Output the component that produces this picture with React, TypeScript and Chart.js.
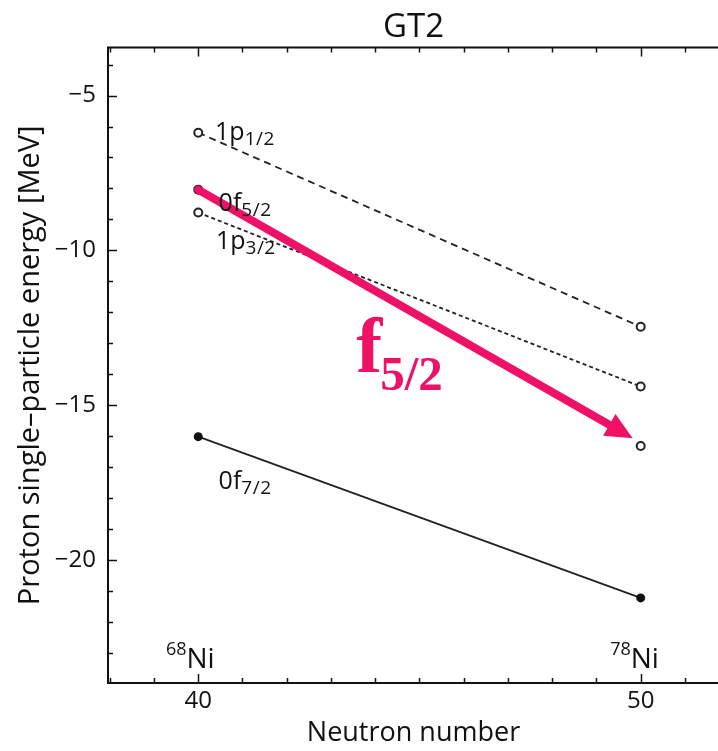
import React, { useEffect, useRef } from "react";
import { Chart, registerables } from "chart.js";

Chart.register(...registerables);

// ---- data ----
const neutronNumbers = [40, 50];
const p12Energies = [-6.2, -12.47];
const f52Energies = [-8.04, -16.32];
const p32Energies = [-8.78, -14.4];
const f72Energies = [-16.02, -21.23];
const xTickValues = [40, 50];
const yTickValues = [-20, -15, -10, -5];
const arrowFrom = [40, -8.04];
const arrowTo = [49.82, -16.07];

const FONT = "'Open Sans', 'DejaVu Sans', sans-serif";
const SERIF = "'Liberation Serif', 'DejaVu Serif', serif";
const PINK = "#EE1166";

// level labels: [main, sub, x, y] (data coordinates of the baseline start)
const levelLabels: [string, string, number, number][] = [
  ["1p", "1/2", 40.38, -6.45],
  ["0f", "5/2", 40.46, -8.72],
  ["1p", "3/2", 40.4, -9.95],
  ["0f", "7/2", 40.46, -17.72],
];
const nucleusLabels: [string, string, number, number][] = [
  ["68", "Ni", 39.27, -23.5],
  ["78", "Ni", 49.31, -23.5],
];

function pts(ys: number[]) {
  return neutronNumbers.map((x, i) => ({ x, y: ys[i] }));
}

const decorPlugin = {
  id: "decor",
  afterDatasetsDraw(chart: any) {
    const { ctx, scales } = chart;
    const xs = scales.x;
    const ys = scales.y;
    ctx.save();
    // arrow
    const x0 = xs.getPixelForValue(arrowFrom[0]);
    const y0 = ys.getPixelForValue(arrowFrom[1]);
    const x1 = xs.getPixelForValue(arrowTo[0]);
    const y1 = ys.getPixelForValue(arrowTo[1]);
    const ang = Math.atan2(y1 - y0, x1 - x0);
    const headLen = 27;
    const headHalf = 12.5;
    const bx = x1 - headLen * Math.cos(ang);
    const by = y1 - headLen * Math.sin(ang);
    ctx.strokeStyle = PINK;
    ctx.fillStyle = PINK;
    ctx.lineWidth = 8;
    ctx.lineCap = "round";
    ctx.beginPath();
    ctx.moveTo(x0, y0);
    ctx.lineTo(bx + 2 * Math.cos(ang), by + 2 * Math.sin(ang));
    ctx.stroke();
    ctx.beginPath();
    ctx.moveTo(x1, y1);
    ctx.lineTo(bx + headHalf * Math.sin(ang), by - headHalf * Math.cos(ang));
    ctx.lineTo(bx - headHalf * Math.sin(ang), by + headHalf * Math.cos(ang));
    ctx.closePath();
    ctx.fill();

    // level labels
    ctx.fillStyle = "#111";
    ctx.textBaseline = "alphabetic";
    ctx.textAlign = "left";
    for (const [main, sub, lx, ly] of levelLabels) {
      const px = xs.getPixelForValue(lx);
      const py = ys.getPixelForValue(ly);
      ctx.font = `25px ${FONT}`;
      ctx.fillText(main, px, py);
      const w = ctx.measureText(main).width;
      ctx.font = `19px ${FONT}`;
      if ("letterSpacing" in ctx) (ctx as any).letterSpacing = "0.5px";
      ctx.fillText(sub, px + w, py + 5);
      if ("letterSpacing" in ctx) (ctx as any).letterSpacing = "0px";
    }
    for (const [sup, main, lx, ly] of nucleusLabels) {
      const px = xs.getPixelForValue(lx);
      const py = ys.getPixelForValue(ly);
      ctx.font = `18px ${FONT}`;
      ctx.fillText(sup, px, py - 13);
      const w = ctx.measureText(sup).width;
      ctx.font = `28px ${FONT}`;
      ctx.fillText(main, px + w, py);
    }
    // big pink f5/2
    ctx.fillStyle = PINK;
    const fx = xs.getPixelForValue(43.57);
    const fy = ys.getPixelForValue(-13.93);
    ctx.font = `bold 78px ${SERIF}`;
    ctx.fillText("f", fx, fy);
    const fw = ctx.measureText("f").width;
    ctx.font = `bold 49px ${SERIF}`;
    ctx.fillText("5/2", fx + fw - 2, fy + 18);
    ctx.restore();
  },
  afterDraw(chart: any) {
    const { ctx, chartArea, scales } = chart;
    const { left, right, top, bottom } = chartArea;
    const xs = scales.x;
    const ys = scales.y;
    ctx.save();
    ctx.strokeStyle = "#111";
    ctx.lineWidth = 2;
    ctx.lineCap = "butt";
    ctx.beginPath();
    ctx.moveTo(right + 20, top);
    ctx.lineTo(left, top);
    ctx.lineTo(left, bottom);
    ctx.lineTo(right + 20, bottom);
    ctx.stroke();
    ctx.lineWidth = 1.5;
    ctx.beginPath();
    for (let v = Math.ceil(xs.min); v <= xs.max; v++) {
      const px = Math.round(xs.getPixelForValue(v)) + 0.5;
      const len = v % 10 === 0 ? 9 : 5;
      ctx.moveTo(px, bottom);
      ctx.lineTo(px, bottom - len);
      ctx.moveTo(px, top);
      ctx.lineTo(px, top + len);
    }
    for (let v = Math.ceil(ys.min); v <= ys.max; v++) {
      const py = Math.round(ys.getPixelForValue(v)) + 0.5;
      const len = v % 5 === 0 ? 9 : 5;
      ctx.moveTo(left, py);
      ctx.lineTo(left + len, py);
    }
    ctx.stroke();
    ctx.restore();
  },
};

export default function App() {
  const ref = useRef<HTMLCanvasElement | null>(null);
  useEffect(() => {
    if (!ref.current) return;
    const lineColor = "#222";
    const openPoint = {
      pointRadius: 4,
      pointBorderWidth: 2,
      pointBorderColor: lineColor,
      pointBackgroundColor: "#fff",
    };
    const chart = new Chart(ref.current, {
      type: "scatter",
      data: {
        datasets: [
          {
            label: "1p1/2",
            data: pts(p12Energies),
            showLine: true,
            borderColor: lineColor,
            borderWidth: 1.8,
            borderDash: [7, 5],
            ...openPoint,
          },
          {
            label: "1p3/2",
            data: pts(p32Energies),
            showLine: true,
            borderColor: lineColor,
            borderWidth: 1.8,
            borderDash: [4, 3],
            ...openPoint,
          },
          {
            label: "0f5/2",
            data: pts(f52Energies),
            showLine: false,
            ...openPoint,
          },
          {
            label: "0f7/2",
            data: pts(f72Energies),
            showLine: true,
            borderColor: lineColor,
            borderWidth: 1.8,
            pointRadius: 4.5,
            pointBorderWidth: 0,
            pointBackgroundColor: "#111",
          },
        ],
      },
      options: {
        responsive: false,
        animation: false,
        layout: { padding: 0 },
        plugins: {
          legend: { display: false },
          tooltip: { enabled: false },
          title: {
            display: true,
            text: "GT2",
            fullSize: false,
            color: "#111",
            font: { family: FONT, size: 33, weight: "normal" },
            padding: { top: 8, bottom: 0 },
          },
        },
        scales: {
          x: {
            type: "linear",
            min: 37.96,
            max: 51.77,
            grid: { display: false, drawTicks: false },
            border: { display: false },
            afterBuildTicks: (s: any) => {
              s.ticks = xTickValues.map((v) => ({ value: v }));
            },
            afterFit: (s: any) => {
              s.height = 68;
              s.paddingLeft = 0;
              s.paddingRight = 0;
            },
            ticks: {
              color: "#111",
              padding: 4,
              font: { family: FONT, size: 24 },
              callback: (v: any) => String(v),
            },
            title: {
              display: true,
              text: "Neutron number",
              color: "#111",
              font: { family: FONT, size: 27 },
              padding: { top: 0, bottom: 1 },
            },
          },
          y: {
            type: "linear",
            min: -23.98,
            max: -3.45,
            grid: { display: false, drawTicks: false },
            border: { display: false },
            afterBuildTicks: (s: any) => {
              s.ticks = yTickValues.map((v) => ({ value: v }));
            },
            afterFit: (s: any) => {
              s.width = 108;
              s.paddingTop = 0;
              s.paddingBottom = 0;
            },
            ticks: {
              color: "#111",
              padding: 12,
              font: { family: FONT, size: 24 },
              callback: (v: any) => (v < 0 ? "\u2212" + Math.abs(v) : String(v)),
            },
            title: {
              display: true,
              text: "Proton single\u2013particle energy [MeV]",
              color: "#111",
              font: { family: FONT, size: 29 },
              padding: { top: 13, bottom: 0 },
            },
          },
        },
      },
      plugins: [decorPlugin],
    } as any);
    return () => chart.destroy();
  }, []);
  return (
    <div
      style={{
        position: "absolute",
        left: 0,
        top: 0,
        width: 718,
        height: 751,
        overflow: "hidden",
        background: "#fff",
      }}
    >
      <canvas ref={ref} width={725} height={751} />
    </div>
  );
}
